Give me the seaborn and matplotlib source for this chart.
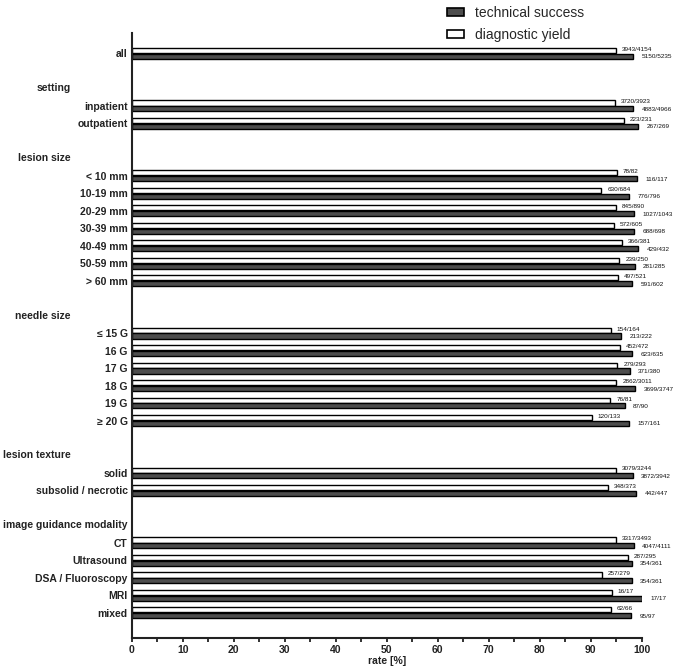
import pandas as pd
import seaborn as sns
from matplotlib import pyplot as plt
from matplotlib.patches import Patch

# rows of the chart, grouped; '' = no group header
labels = ['all',
          'inpatient', 'outpatient',
          '< 10 mm', '10-19 mm', '20-29 mm', '30-39 mm', '40-49 mm', '50-59 mm', '> 60 mm',
          '≤ 15 G', '16 G', '17 G', '18 G', '19 G', '≥ 20 G',
          'solid', 'subsolid / necrotic',
          'CT', 'Ultrasound', 'DSA / Fluoroscopy', 'MRI', 'mixed']
groups = ['',
          'setting', 'setting',
          'lesion size', 'lesion size', 'lesion size', 'lesion size', 'lesion size', 'lesion size', 'lesion size',
          'needle size', 'needle size', 'needle size', 'needle size', 'needle size', 'needle size',
          'lesion texture', 'lesion texture',
          'image guidance modality', 'image guidance modality', 'image guidance modality',
          'image guidance modality', 'image guidance modality']

# diagnostic yield counts
dy_num = [3943, 3720, 223, 78, 630, 845, 572, 366, 239, 497,
          154, 452, 279, 2862, 76, 120, 3079, 348, 3317, 287, 257, 16, 62]
dy_den = [4154, 3923, 231, 82, 684, 890, 605, 381, 250, 521,
          164, 472, 293, 3011, 81, 133, 3244, 373, 3493, 295, 279, 17, 66]
# technical success counts
ts_num = [5150, 4883, 267, 116, 776, 1027, 688, 429, 281, 591,
          213, 623, 371, 3699, 87, 157, 3872, 442, 4047, 354, 354, 17, 95]
ts_den = [5235, 4966, 269, 117, 796, 1043, 698, 432, 285, 602,
          222, 635, 380, 3747, 90, 161, 3942, 447, 4111, 361, 361, 17, 97]

hue_order = ['diagnostic yield', 'technical success']
colors = {'diagnostic yield': 'white', 'technical success': '#4d4d4d'}

# build the row order with blank rows and group headers
order = []
headers = {}
prev = None
for lab, grp in zip(labels, groups):
    if grp != prev and prev is not None:
        order.append('_blank_%d' % len(order))
        if grp:
            key = '_hdr_%s' % grp
            order.append(key)
            headers[key] = grp
    order.append(lab)
    prev = grp

records = []
for i, lab in enumerate(labels):
    records.append({'row': lab, 'measure': 'diagnostic yield',
                    'rate': dy_num[i] / dy_den[i] * 100, 'txt': '%d/%d' % (dy_num[i], dy_den[i])})
    records.append({'row': lab, 'measure': 'technical success',
                    'rate': ts_num[i] / ts_den[i] * 100, 'txt': '%d/%d' % (ts_num[i], ts_den[i])})
df = pd.DataFrame(records)

sns.set_style('ticks')
plt.rcParams['font.family'] = ['Liberation Sans', 'DejaVu Sans']

fig = plt.figure(figsize=(6.78, 6.71), dpi=100)
ax = fig.add_axes([0.1942, 0.0492, 0.7523, 0.9016])

sns.barplot(data=df, y='row', x='rate', hue='measure', order=order, hue_order=hue_order,
            palette=colors, orient='h', width=0.66, gap=0.12, edgecolor='black',
            linewidth=1.0, errorbar=None, legend=False, ax=ax)

# count labels next to each bar
txt_lookup = {(r.row, r.measure): r.txt for r in df.itertuples()}
for measure, cont in zip(hue_order, ax.containers):
    dx = 4.3 if measure == 'diagnostic yield' else 6.0
    dy = 0.8 if measure == 'diagnostic yield' else -0.4
    for bar in cont:
        w = bar.get_width()
        if not w == w:
            continue
        yc = bar.get_y() + bar.get_height() / 2
        row = order[int(round(yc))]
        ax.annotate(txt_lookup[(row, measure)], (w, yc), xytext=(dx, dy),
                    textcoords='offset points', ha='left', va='center', fontsize=4.6,
                    color='#111111')

# group headers
for key, text in headers.items():
    y = order.index(key)
    if len(text) > 15:
        ax.text(-0.252, y, text, transform=ax.get_yaxis_transform(), ha='left', va='center',
                fontsize=7.5, fontweight='bold', color='#222222')
    else:
        ax.text(-0.119, y, text, transform=ax.get_yaxis_transform(), ha='right', va='center',
                fontsize=7.5, fontweight='bold', color='#222222')

ax.set_yticks(range(len(order)))
ax.set_yticklabels([r if r in labels else '' for r in order], fontsize=7.5,
                   fontweight='bold', color='#222222')
ax.tick_params(axis='y', length=0, pad=3)

ax.set_xlim(0, 100)
ax.set_ylim(33.44, -1.17)
ax.set_xticks(range(0, 101, 10))
ax.set_xticks(range(5, 100, 10), minor=True)
ax.tick_params(axis='x', which='both', length=3, width=1.3, direction='out',
               labelsize=7.5, pad=2, color='#222222', labelcolor='#222222')
for t in ax.get_xticklabels():
    t.set_fontweight('bold')
ax.set_xlabel('rate [%]', fontsize=7.5, fontweight='bold', labelpad=1, color='#222222')
ax.set_ylabel('')

sns.despine(ax=ax)
for s in ['left', 'bottom']:
    ax.spines[s].set_linewidth(1.5)
    ax.spines[s].set_color('#222222')

handles = [Patch(facecolor='#4d4d4d', edgecolor='black', linewidth=1.2, label='technical success'),
           Patch(facecolor='white', edgecolor='black', linewidth=1.2, label='diagnostic yield')]
fig.legend(handles=handles, loc='upper left', bbox_to_anchor=(447 / 678, 1 - 6 / 671),
           frameon=False, fontsize=10, handlelength=1.25, handleheight=0.55,
           handletextpad=0.75, labelspacing=0.55, borderaxespad=0, borderpad=0)

fig.savefig('out.png', dpi=100)
